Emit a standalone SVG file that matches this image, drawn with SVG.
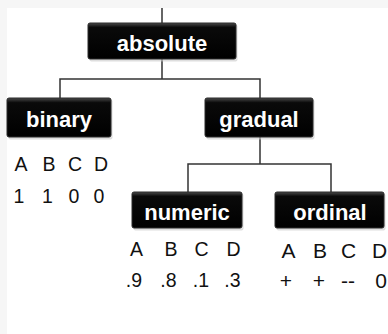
<svg xmlns="http://www.w3.org/2000/svg" width="388" height="334" viewBox="0 0 388 334">
<defs>
<linearGradient id="bg" x1="0" y1="0" x2="0" y2="1">
<stop offset="0" stop-color="#4a4a4a"/>
<stop offset="0.12" stop-color="#0a0a0a"/>
<stop offset="1" stop-color="#000"/>
</linearGradient>
<style>
.box{fill:url(#bg);stroke:#2a2a2a;stroke-width:1}
.shadow{fill:#c8c8c8;opacity:0.6}
.lbl{font-family:"Liberation Sans",Arial,sans-serif;font-size:22px;font-weight:bold;fill:#fff;text-anchor:middle}
.val{font-family:"Liberation Sans",Arial,sans-serif;font-size:19.5px;fill:#111;text-anchor:middle}
.big{font-size:21px}
.conn{fill:none;stroke:#333;stroke-width:1.5}
</style>
</defs>
<rect x="0" y="0" width="388" height="334" fill="#f6f6f6"/>
<rect x="7" y="8" width="381" height="326" fill="#fff"/>
<g id="connectors">
<path class="conn" d="M162 8V23"/>
<path class="conn" d="M162 59V79M60 98V79H260V98"/>
<path class="conn" d="M260 137V164M188 192V164H331V192"/>
</g>
<g id="absolute">
<rect class="shadow" x="89.5" y="24.5" width="148" height="37" rx="2"/>
<rect class="box" x="88" y="23" width="148" height="36" rx="2"/>
<text class="lbl" x="162" y="51">absolute</text>
</g>
<g id="binary">
<rect class="shadow" x="8.5" y="99.5" width="104" height="40" rx="2"/>
<rect class="box" x="7" y="98" width="104" height="39" rx="2"/>
<text class="lbl" x="59" y="127">binary</text>
</g>
<g id="gradual">
<rect class="shadow" x="206.5" y="99.5" width="108" height="40" rx="2"/>
<rect class="box" x="205" y="98" width="108" height="39" rx="2"/>
<text class="lbl" x="259" y="127">gradual</text>
</g>
<g id="numeric">
<rect class="shadow" x="133.5" y="193.5" width="110" height="37" rx="2"/>
<rect class="box" x="132" y="192" width="110" height="36" rx="2"/>
<text class="lbl" x="187" y="219.5">numeric</text>
</g>
<g id="ordinal">
<rect class="shadow" x="276.5" y="193.5" width="109" height="37" rx="2"/>
<rect class="box" x="275" y="192" width="109" height="36" rx="2"/>
<text class="lbl" x="330" y="219.5">ordinal</text>
</g>
<g id="binary-values">
<text class="val" x="21" y="170.5">A</text>
<text class="val" x="49" y="170.5">B</text>
<text class="val" x="75" y="170.5">C</text>
<text class="val" x="101" y="170.5">D</text>
<text class="val" x="19" y="203">1</text>
<text class="val" x="47.5" y="203">1</text>
<text class="val" x="74" y="203">0</text>
<text class="val" x="99" y="203">0</text>
</g>
<g id="numeric-values">
<text class="val" x="136.5" y="255.5">A</text>
<text class="val" x="171" y="255.5">B</text>
<text class="val" x="201.5" y="255.5">C</text>
<text class="val" x="233.5" y="255.5">D</text>
<text class="val" x="134" y="286.5">.9</text>
<text class="val" x="168.5" y="286.5">.8</text>
<text class="val" x="201" y="286.5">.1</text>
<text class="val" x="232.5" y="286.5">.3</text>
</g>
<g id="ordinal-values">
<text class="val big" x="288.5" y="258">A</text>
<text class="val big" x="320" y="258">B</text>
<text class="val big" x="348.5" y="258">C</text>
<text class="val big" x="379.5" y="258">D</text>
<text class="val big" x="286" y="288">+</text>
<text class="val big" x="319" y="288">+</text>
<text class="val big" x="348" y="288">--</text>
<text class="val big" x="381" y="288">0</text>
</g>
</svg>
